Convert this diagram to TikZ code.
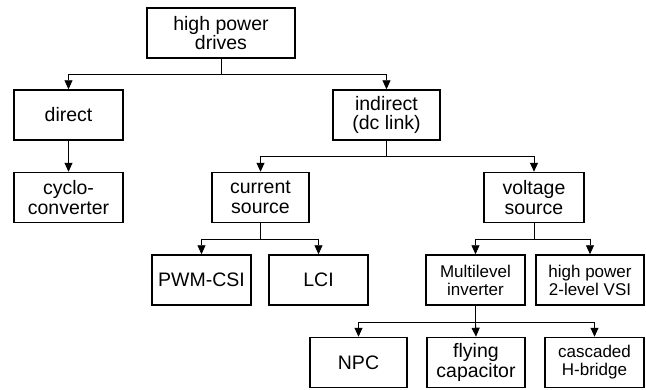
\documentclass[tikz,border=0pt]{standalone}
\usepackage{fontspec}
\setmainfont{Liberation Sans}
\usepackage{tikz}
\usetikzlibrary{arrows.meta,positioning}

\begin{document}
\begin{tikzpicture}[x=1pt,y=-1pt]
				\tikzstyle{Block}	= [draw, line width=1.5pt, align=center, inner sep=0pt, minimum height=50pt, font=\fontsize{19.5}{19.5}\selectfont]
				\tikzstyle{Small}	= [font=\fontsize{17}{18}\selectfont]
				\tikzstyle{Link}	= [line width=0.9pt, -{Triangle[length=9pt,width=8pt]}]
				\tikzstyle{Bus}	= [line width=0.9pt]

				\useasboundingbox (0,0) rectangle (646,389);

				\node (hp) at (221,33) [Block][minimum width=148pt] {high power\\drives};

				\node (dir) at (68.5,115) [Block][minimum width=109pt] {direct};
				\node (cyc) at (68.5,197.5) [Block][minimum width=109pt] {cyclo-\\converter};
				\node (ind) at (386.5,115) [Block][minimum width=107pt] {indirect\\(dc link)};

				\node (cs) at (260.5,197.5) [Block][minimum width=97pt] {current\\source};
				\node (vs) at (534,197.5) [Block][minimum width=100pt] {voltage\\source};

				\node (pwm) at (201.5,280) [Block][minimum width=99pt] {PWM-CSI};
				\node (lci) at (318.5,280) [Block][minimum width=99pt] {LCI};
				\node (ml) at (475.5,280) [Block][Small][minimum width=99pt] {Multilevel\\inverter};
				\node (vsi) at (590,280) [Block][Small][minimum width=108pt] {high power\\2-level VSI};

				\node (npc) at (358.5,362.5) [Block][minimum width=97pt] {NPC};
				\node (fc) at (476,362.5) [Block][minimum width=98pt] {flying\\capacitor};
				\node (chb) at (594.5,362.5) [Block][Small][minimum width=99pt] {cascaded\\H-bridge};

				% branches
				\draw (hp.south) -- ++(0,16) coordinate (hpbus) [Bus];
				\draw (hpbus) -| (dir.north) [Link];
				\draw (hpbus) -| (ind.north) [Link];
				\draw (dir.south) -- (cyc.north) [Link];

				\draw (ind.south) -- ++(0,16) coordinate (indbus) [Bus];
				\draw (indbus) -| (cs.north) [Link];
				\draw (indbus) -| (vs.north) [Link];

				\draw (cs.south) -- ++(0,16) coordinate (csbus) [Bus];
				\draw (csbus) -| (pwm.north) [Link];
				\draw (csbus) -| (lci.north) [Link];

				\draw (vs.south) -- ++(0,16) coordinate (vsbus) [Bus];
				\draw (vsbus) -| (ml.north) [Link];
				\draw (vsbus) -| (vsi.north) [Link];

				\draw (ml.south) -- ++(0,17) coordinate (mlbus) [Bus];
				\draw (mlbus) -| (npc.north) [Link];
				\draw (mlbus) -- (fc.north) [Link];
				\draw (mlbus) -| (chb.north) [Link];
			\end{tikzpicture}
\end{document}
